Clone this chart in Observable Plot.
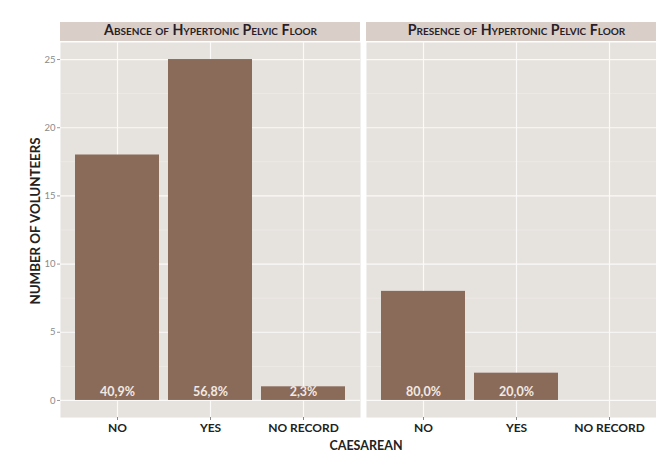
<!DOCTYPE html>
<html><head><meta charset="utf-8">
<script src="https://cdn.jsdelivr.net/npm/d3@7"></script>
<script src="https://cdn.jsdelivr.net/npm/@observablehq/plot@0.6"></script>
<style>
html,body{margin:0;padding:0;background:#fff;overflow:hidden;width:656px;height:452px}
#chart{width:656px;height:452px;overflow:hidden;position:relative}
#chart svg{display:block;max-width:none !important}
</style></head><body><div id="chart"></div>
<script>
const panels = ["Absence of Hypertonic Pelvic Floor", "Presence of Hypertonic Pelvic Floor"];
const categories = ["NO", "YES", "NO RECORD"];
const absenceCounts = [18, 25, 1];
const presenceCounts = [8, 2, 0];
const absenceLabels = ["40,9%", "56,8%", "2,3%"];
const presenceLabels = ["80,0%", "20,0%", ""];
const yTicks = [0, 5, 10, 15, 20, 25];
const yMinor = [2.5, 7.5, 12.5, 17.5, 22.5];
const xTitle = "CAESAREAN";
const yTitle = "NUMBER OF VOLUNTEERS";

const data = [
  ...categories.map((c, i) => ({panel: panels[0], cat: c, n: absenceCounts[i], label: absenceLabels[i]})),
  ...categories.map((c, i) => ({panel: panels[1], cat: c, n: presenceCounts[i], label: presenceLabels[i]}))
];

const W = 666, H = 452;
const chart = Plot.plot({
  width: W, height: H,
  marginTop: 42, marginBottom: 35, marginLeft: 60, marginRight: 0,
  style: {fontFamily: "Lato, 'Open Sans', sans-serif", background: "transparent", overflow: "visible", maxWidth: "none"},
  fx: {domain: panels, padding: 0.0198, label: null},
  x: {domain: categories, paddingInner: 0.1, paddingOuter: 0.15},
  y: {domain: [-1.25, 26.25]},
  marks: [
    Plot.frame({fill: "#e6e2dd", stroke: null}),
    Plot.gridY(yMinor, {stroke: "#f2efec", strokeOpacity: 1, strokeWidth: 0.6}),
    Plot.gridY(yTicks, {stroke: "#fbfaf9", strokeOpacity: 1, strokeWidth: 1.2}),
    Plot.gridX(categories, {stroke: "#fbfaf9", strokeOpacity: 1, strokeWidth: 1.2}),
    Plot.barY(data.filter(d => d.n > 0), {fx: "panel", x: "cat", y1: 0, y2: "n", fill: "#8a6a59"}),
    Plot.text(data.filter(d => d.label), {fx: "panel", x: "cat", y: 0, text: "label", dy: -8,
      fill: "#f1e9e3", fontWeight: "bold", fontSize: 12.5}),
    Plot.axisFx({anchor: "top", label: null, tickSize: 0, tickPadding: 8, fontSize: 14.2,
      fontWeight: "bold", fill: "#2a1e28", fontVariant: "small-caps",
      tickFormat: d => d}),
    Plot.axisY({ticks: yTicks, tickSize: 3, tickPadding: 2, stroke: "#999", fill: "#8a8a8a", fontSize: 9.5,
      label: null}),
    Plot.axisX({label: null, tickSize: 3, tickPadding: 3, stroke: "#888", fill: "#222",
      fontSize: 12, fontWeight: "bold"})
  ]
});
chart.style.maxWidth = "none";

const svg = d3.select(chart);
// strip backgrounds drawn behind the facet labels, positioned from the fx scale
const fx = chart.scale("fx");
const strips = svg.insert("g", ":first-child");
panels.forEach(p => {
  strips.append("rect")
    .attr("x", fx.apply(p)).attr("width", fx.bandwidth)
    .attr("y", 22).attr("height", 19)
    .attr("fill", "#d9cfc8");
});
// y axis title
svg.append("text")
  .attr("transform", "translate(35,221) rotate(-90)")
  .attr("text-anchor", "middle").attr("dominant-baseline", "central")
  .attr("font-weight", "bold").attr("font-size", 13.3).attr("fill", "#222")
  .text(yTitle);
// x axis title
svg.append("text")
  .attr("x", 366).attr("y", 450)
  .attr("text-anchor", "middle")
  .attr("font-weight", "bold").attr("font-size", 12.5).attr("fill", "#222")
  .text(xTitle);

document.getElementById("chart").append(chart);
</script></body></html>
